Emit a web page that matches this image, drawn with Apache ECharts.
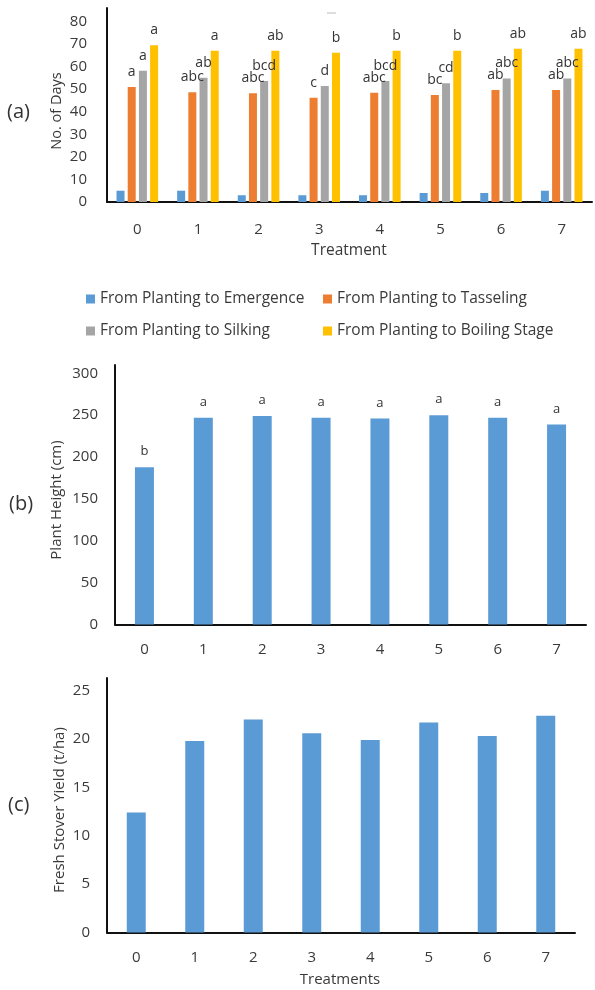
<!DOCTYPE html>
<html>
<head>
<meta charset="utf-8">
<script src="https://cdn.jsdelivr.net/npm/echarts@6/dist/echarts.min.js"></script>
<style>
html,body{margin:0;padding:0;background:#fff;}
#main{width:595px;height:990px;}
</style>
</head>
<body>
<div id="main"></div>
<script>
const categories = ['0','1','2','3','4','5','6','7'];
const emergence = [5, 5, 3, 3, 3, 4, 4, 5];
const tasseling = [51, 48.7, 48.2, 46.2, 48.4, 47.4, 49.6, 49.6];
const silking   = [58.2, 55.1, 53.6, 51.4, 53.6, 52.6, 54.8, 54.8];
const boiling   = [69.5, 67.1, 67.1, 66.2, 67.1, 67.1, 67.9, 67.9];
const sigTasseling = ['a','abc','abc','c','abc','bc','ab','ab'];
const sigSilking   = ['a','ab','bcd','d','bcd','cd','abc','abc'];
const sigBoiling   = ['a','a','ab','b','b','b','ab','ab'];
const plantHeight = [188, 247, 249, 247, 246, 250, 247, 239];
const sigHeight   = ['b','a','a','a','a','a','a','a'];
const stoverYield = [12.4, 19.8, 22.0, 20.6, 19.9, 21.7, 20.3, 22.4];
const seriesNames = ['From Planting to Emergence','From Planting to Tasseling','From Planting to Silking','From Planting to Boiling Stage'];

const FONT = '"Open Sans", sans-serif';
const TXT = '#3a3a3a';
const axisLine = {show:true, lineStyle:{color:'#111', width:2}};

function xAx(gi, margin){
  return {type:'category', gridIndex:gi, data:categories, axisLine:axisLine,
    axisTick:{show:false}, axisLabel:{color:TXT, fontSize:15, fontFamily:FONT, margin:margin}};
}
function yAx(gi, max, interval, margin){
  return {type:'value', gridIndex:gi, min:0, max:max, interval:interval,
    axisLine:axisLine, axisTick:{show:false}, splitLine:{show:false},
    axisLabel:{color:TXT, fontSize:15, fontFamily:FONT, margin:margin, showMaxLabel:false}};
}
function sigLabel(arr, dist, size){
  return {show:true, position:'top', distance:dist, color:'#333', fontSize:size, fontFamily:FONT,
    formatter: p => arr[p.dataIndex]};
}
const colors = ['#5B9BD5','#ED7D31','#A5A5A5','#FFC000'];
function legendItem(name, left, top){
  return {data:[name], left:left, top:top, itemWidth:9, itemHeight:9, icon:'rect', padding:0,
    textStyle:{color:TXT, fontSize:15.5, fontFamily:FONT}};
}

const option = {
  animation:false,
  textStyle:{fontFamily:FONT},
  grid:[
    {left:107, right:3, top:8, bottom:788},
    {left:115, right:9, top:365, bottom:365.5},
    {left:107, right:20, top:678, bottom:57.5}
  ],
  xAxis:[xAx(0,20), xAx(1,18), xAx(2,18)],
  yAxis:[yAx(0,86,10,20), yAx(1,310,50,17), yAx(2,26.3,5,17)],
  legend:[
    legendItem(seriesNames[0], 86, 291),
    legendItem(seriesNames[1], 323, 291),
    legendItem(seriesNames[2], 86, 323),
    legendItem(seriesNames[3], 323, 323)
  ],
  series:[
    {name:seriesNames[0], type:'bar', xAxisIndex:0, yAxisIndex:0, data:emergence, barWidth:8, barGap:'40%', itemStyle:{color:colors[0]}},
    {name:seriesNames[1], type:'bar', xAxisIndex:0, yAxisIndex:0, data:tasseling, barWidth:8, barGap:'40%', itemStyle:{color:colors[1]}, label:sigLabel(sigTasseling,8,14)},
    {name:seriesNames[2], type:'bar', xAxisIndex:0, yAxisIndex:0, data:silking, barWidth:8, barGap:'40%', itemStyle:{color:colors[2]}, label:sigLabel(sigSilking,8,14)},
    {name:seriesNames[3], type:'bar', xAxisIndex:0, yAxisIndex:0, data:boiling, barWidth:8, barGap:'40%', itemStyle:{color:colors[3]}, label:sigLabel(sigBoiling,8,14)},
    {name:'Plant Height', type:'bar', xAxisIndex:1, yAxisIndex:1, data:plantHeight, barWidth:19, itemStyle:{color:colors[0]}, label:sigLabel(sigHeight,9,13)},
    {name:'Fresh Stover Yield', type:'bar', xAxisIndex:2, yAxisIndex:2, data:stoverYield, barWidth:19, itemStyle:{color:colors[0]}}
  ],
  graphic:[
    {type:'text', x:7, y:112, style:{text:'(a)', fill:'#333', font:'20px '+FONT, textVerticalAlign:'middle'}},
    {type:'text', x:9, y:504, style:{text:'(b)', fill:'#333', font:'20px '+FONT, textVerticalAlign:'middle'}},
    {type:'text', x:8, y:805, style:{text:'(c)', fill:'#333', font:'20px '+FONT, textVerticalAlign:'middle'}},
    {type:'text', x:57, y:111, rotation:Math.PI/2, style:{text:'No. of Days', fill:TXT, font:'14.5px '+FONT, textAlign:'center', textVerticalAlign:'middle'}},
    {type:'text', x:57, y:500, rotation:Math.PI/2, style:{text:'Plant Height (cm)', fill:TXT, font:'15px '+FONT, textAlign:'center', textVerticalAlign:'middle'}},
    {type:'text', x:60, y:810, rotation:Math.PI/2, style:{text:'Fresh Stover Yield (t/ha)', fill:TXT, font:'15px '+FONT, textAlign:'center', textVerticalAlign:'middle'}},
    {type:'text', x:349, y:251, style:{text:'Treatment', fill:TXT, font:'15.5px '+FONT, textAlign:'center', textVerticalAlign:'middle'}},
    {type:'text', x:340, y:980, style:{text:'Treatments', fill:TXT, font:'15px '+FONT, textAlign:'center', textVerticalAlign:'middle'}},
    {type:'line', shape:{x1:327, y1:13, x2:336, y2:13}, style:{stroke:'#bbb', lineWidth:1}}
  ]
};
const chart = echarts.init(document.getElementById('main'), null, {renderer:'canvas'});
chart.setOption(option);
</script>
</body>
</html>
